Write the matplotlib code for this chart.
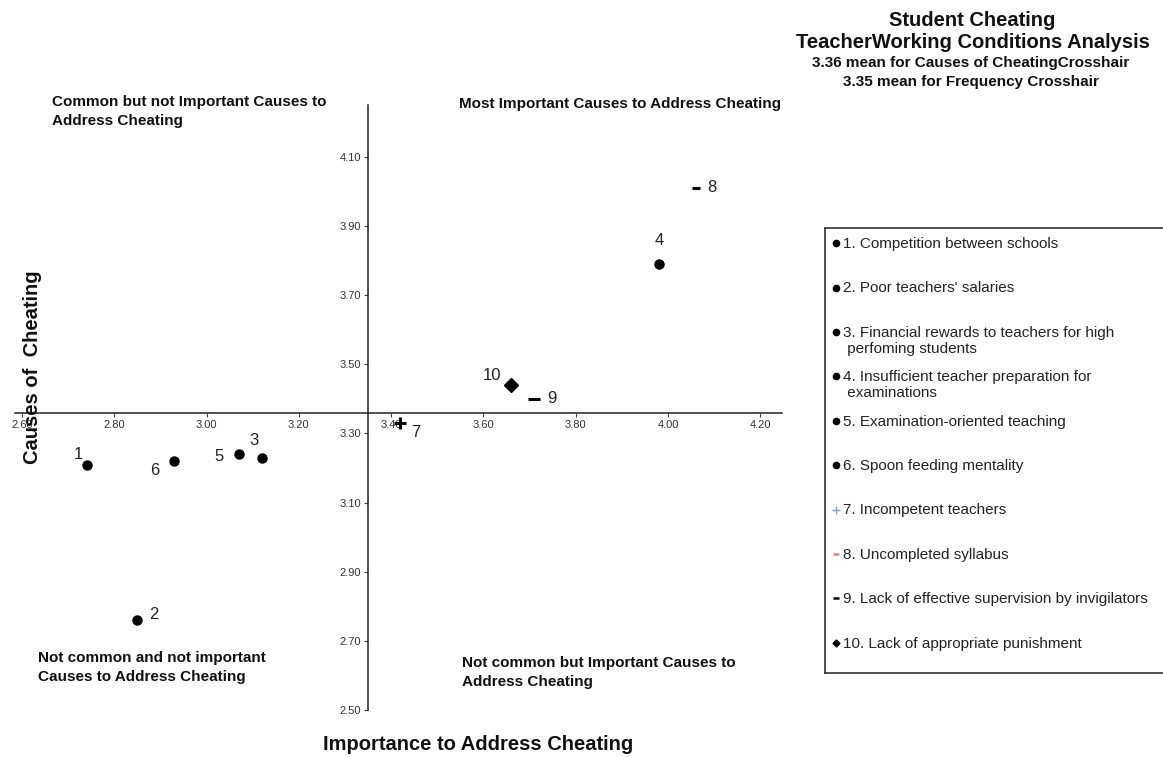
import matplotlib.pyplot as plt

plt.rcParams['font.family'] = ['Liberation Sans', 'DejaVu Sans']

# data
ids = ['1', '2', '3', '4', '5', '6', '7', '8', '9', '10']
importance = [2.74, 2.85, 3.12, 3.98, 3.07, 2.93, 3.42, 4.06, 3.71, 3.66]
causes = [3.21, 2.76, 3.23, 3.79, 3.24, 3.22, 3.33, 4.01, 3.40, 3.44]
legend_labels = [
    "1. Competition between schools",
    "2. Poor teachers' salaries",
    "3. Financial rewards to teachers for high\n perfoming students",
    "4. Insufficient teacher preparation for\n examinations",
    "5. Examination-oriented teaching",
    "6. Spoon feeding mentality",
    "7. Incompetent teachers",
    "8. Uncompleted syllabus",
    "9. Lack of effective supervision by invigilators",
    "10. Lack of appropriate punishment",
]
x_mean = 3.35
y_mean = 3.36
xticks = [2.60, 2.80, 3.00, 3.20, 3.40, 3.60, 3.80, 4.00, 4.20]
yticks = [2.50, 2.70, 2.90, 3.10, 3.30, 3.50, 3.70, 3.90, 4.10]

# marker styles (plot, legend colour)
markers = ['o', 'o', 'o', 'o', 'o', 'o', 'P', '_', '_', 'D']
msizes = [6.5, 6.5, 6.5, 6.5, 6.5, 6.5, 8, 6, 9, 7]
legend_colors = ['black'] * 6 + ['#8c9cc8', '#d98c8c', 'black', 'black']
# label offsets in points
offsets = [(-6, 7), (12, 4), (-6, 12), (0, 17), (-14, -2), (-14, -7),
           (11, -7), (12, 0), (13, 0), (-14, 7)]

W, H = 1163, 757
fig = plt.figure(figsize=(W / 100, H / 100), dpi=100)
ax = fig.add_axes([15 / W, 1 - 710 / H, (782 - 15) / W, (710 - 105) / H])

for i in range(len(ids)):
    if markers[i] == 'P':
        ax.plot(importance[i], causes[i], marker='+', ms=msizes[i], mew=2.2,
                color='black', ls='none')
    elif markers[i] == '_':
        ax.plot(importance[i], causes[i], marker='_', ms=msizes[i], mew=2.2,
                color='black', ls='none')
    else:
        ax.plot(importance[i], causes[i], marker=markers[i], ms=msizes[i],
                color='black', ls='none')
    ax.annotate(ids[i], (importance[i], causes[i]), xytext=offsets[i],
                textcoords='offset points', ha='center', va='center',
                fontsize=12, color='#222222')

ax.set_xlim(2.585, 4.247)
ax.set_ylim(2.5, 4.25)
ax.spines['left'].set_position(('data', x_mean))
ax.spines['bottom'].set_position(('data', y_mean))
ax.spines['top'].set_visible(False)
ax.spines['right'].set_visible(False)
for s in ['left', 'bottom']:
    ax.spines[s].set_color('#222222')
    ax.spines[s].set_linewidth(1.1)
ax.set_xticks(xticks)
ax.set_yticks(yticks)
ax.set_xticklabels(['%.2f' % v for v in xticks])
ax.set_yticklabels(['%.2f' % v for v in yticks])
ax.tick_params(axis='both', labelsize=8, labelcolor='#333333', length=3,
               width=0.8, color='#444444', pad=2)
ax.patch.set_alpha(0)

# quadrant captions
cap = dict(fontsize=11, fontweight='bold', color='#111111', va='top', ha='left',
           linespacing=1.45)
fig.text(52 / W, 1 - 95 / H, "Common but not Important Causes to\nAddress Cheating", **cap)
fig.text(459 / W, 1 - 97 / H, "Most Important Causes to Address Cheating", **cap)
fig.text(38 / W, 1 - 651 / H, "Not common and not important\nCauses to Address Cheating", **cap)
fig.text(462 / W, 1 - 656 / H, "Not common but Important Causes to\nAddress Cheating", **cap)

# axis titles
fig.text(478 / W, 1 - 745 / H, "Importance to Address Cheating", fontsize=14.5,
         fontweight='bold', ha='center', va='center', color='#111111')
fig.text(33 / W, 1 - 367 / H, "Causes of  Cheating", fontsize=14.5, rotation=90,
         fontweight='bold', ha='center', va='center', color='#111111')

# chart title block
fig.text(972 / W, 1 - 20 / H, "Student Cheating", fontsize=14.5, fontweight='bold',
         ha='center', va='center', color='#111111')
fig.text(973 / W, 1 - 43 / H, "TeacherWorking Conditions Analysis", fontsize=14.5,
         fontweight='bold', ha='center', va='center', color='#111111')
fig.text(971 / W, 1 - 63 / H, "3.36 mean for Causes of CheatingCrosshair", fontsize=11,
         fontweight='bold', ha='center', va='center', color='#111111')
fig.text(971 / W, 1 - 82 / H, "3.35 mean for Frequency Crosshair", fontsize=11,
         fontweight='bold', ha='center', va='center', color='#111111')

# legend box, right edge runs off the image
lax = fig.add_axes([825 / W, 1 - 673 / H, (1175 - 825) / W, (673 - 228) / H])
lax.set_xlim(0, 1)
lax.set_ylim(9.68, -0.34)
lax.set_xticks([])
lax.set_yticks([])
for s in lax.spines.values():
    s.set_color('#333333')
    s.set_linewidth(1.2)
for i in range(len(ids)):
    m = markers[i]
    if m == 'P':
        lax.plot(0.03, i, marker='+', ms=6, mew=1, color=legend_colors[i])
    elif m == '_':
        lax.plot(0.03, i, marker='_', ms=5, mew=1.8, color=legend_colors[i])
    elif m == 'D':
        lax.plot(0.03, i, marker='D', ms=3.5, color=legend_colors[i])
    else:
        lax.plot(0.03, i, marker='o', ms=4.5, color=legend_colors[i])
    lax.text(0.052, i - 0.14, legend_labels[i], fontsize=11, va='top', ha='left',
             color='#222222', linespacing=1.2)

fig.savefig('out.png', dpi=100)
